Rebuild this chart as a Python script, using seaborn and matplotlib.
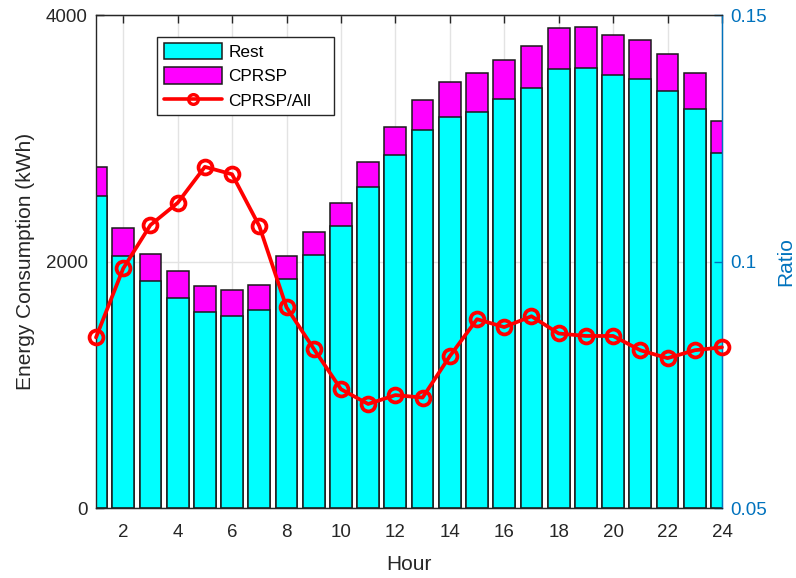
import matplotlib
matplotlib.use("Agg")
import matplotlib.pyplot as plt
import seaborn as sns
import numpy as np
import pandas as pd
from matplotlib.patches import Patch
from matplotlib.lines import Line2D

# Hourly energy consumption (kWh)
hours = list(range(1, 25))
rest = [2532, 2045, 1842, 1704, 1588, 1558, 1607, 1855, 2053, 2288, 2607, 2864,
        3067, 3175, 3213, 3321, 3411, 3559, 3568, 3511, 3481, 3384, 3240, 2878]
total = [2767, 2272, 2063, 1921, 1804, 1769, 1807, 2045, 2239, 2477, 2810, 3089,
         3310, 3459, 3527, 3635, 3749, 3895, 3903, 3841, 3795, 3681, 3532, 3140]
# Share of CPRSP in the total consumption
ratio = [0.0846, 0.0986, 0.1074, 0.1119, 0.1192, 0.1177, 0.1072, 0.0907, 0.0823,
         0.0741, 0.0711, 0.0729, 0.0724, 0.0808, 0.0883, 0.0867, 0.0889, 0.0854,
         0.0849, 0.0849, 0.0820, 0.0804, 0.0820, 0.0826]

x_ticks = list(range(2, 25, 2))
left_ticks = [0, 2000, 4000]
right_ticks = [0.05, 0.1, 0.15]
right_tick_labels = ["0.05", "0.1", "0.15"]

df = pd.DataFrame({"Hour": hours, "Rest": rest, "Total": total, "Ratio": ratio})

sns.set_style("white")
plt.rcParams["font.family"] = ["Liberation Sans", "DejaVu Sans"]

dark = "#262626"
blue = "#0072BD"
cyan = "#00FFFF"
magenta = "#FF00FF"
edge = "#1a1a1a"

fig = plt.figure(figsize=(7.96, 5.78), dpi=100)
ax = fig.add_axes([0.1206, 0.1211, 0.9070 - 0.1206, 0.974 - 0.1211])

# stacked bars: full height in magenta, the "Rest" part drawn over it in cyan
sns.barplot(data=df, x="Hour", y="Total", native_scale=True, color=magenta,
            saturation=1, width=0.8, edgecolor=edge, linewidth=1.1,
            errorbar=None, ax=ax, zorder=2)
sns.barplot(data=df, x="Hour", y="Rest", native_scale=True, color=cyan,
            saturation=1, width=0.8, edgecolor=edge, linewidth=1.1,
            errorbar=None, ax=ax, zorder=2)

ax.set_xlim(1, 24)
ax.set_ylim(0, 4000)
ax.set_xticks(x_ticks)
ax.set_xticklabels([str(t) for t in x_ticks])
ax.set_yticks(left_ticks)
ax.set_yticklabels([str(t) for t in left_ticks])
ax.grid(True, color="#e3e3e3", linewidth=1.0, zorder=0)
ax.set_axisbelow(True)
ax.tick_params(axis="both", direction="in", length=6, width=1, colors=dark,
               labelsize=13.5, top=True)
ax.tick_params(axis="x", pad=11.5)
ax.tick_params(axis="y", pad=6)
ax.set_xlabel("Hour", fontsize=15, color=dark, labelpad=10)
ax.set_ylabel("Energy Consumption (kWh)", fontsize=15, color=dark, labelpad=8)
for side in ["left", "bottom", "top"]:
    ax.spines[side].set_color(dark)
    ax.spines[side].set_linewidth(1)

ax2 = ax.twinx()
sns.lineplot(data=df, x="Hour", y="Ratio", ax=ax2, color="red", linewidth=2.7,
             marker="o", markersize=10, markerfacecolor="none",
             markeredgecolor="red", markeredgewidth=2.7, clip_on=False, zorder=5)
ax2.set_ylim(0.05, 0.15)
ax2.set_xlim(1, 24)
ax2.set_yticks(right_ticks)
ax2.set_yticklabels(right_tick_labels)
ax2.tick_params(axis="y", direction="in", length=6, width=1, colors=blue,
                labelsize=13.5, pad=6)
ax2.set_ylabel("Ratio", fontsize=15, color=blue, rotation=90,
               ha="center", va="center")
ax2.yaxis.set_label_coords(1.102, 0.5)
ax2.spines["right"].set_color(blue)
ax2.spines["right"].set_linewidth(1)
ax2.spines["left"].set_visible(False)
ax2.spines["top"].set_color(dark)
ax2.spines["bottom"].set_color(dark)

handles = [
    Patch(facecolor=cyan, edgecolor=edge, linewidth=1.1, label="Rest"),
    Patch(facecolor=magenta, edgecolor=edge, linewidth=1.1, label="CPRSP"),
    Line2D([0], [0], color="red", linewidth=2.6, marker="o", markersize=7,
           markerfacecolor="none", markeredgecolor="red", markeredgewidth=2.4,
           label="CPRSP/All"),
]
leg = ax2.legend(handles=handles, loc="upper left",
                 bbox_to_anchor=(0.098, 0.956, 0.283, 0.0), mode="expand",
                 borderaxespad=0, fontsize=12.4, frameon=True, fancybox=False,
                 framealpha=1, edgecolor=dark, handlelength=3.4, handleheight=1.07,
                 handletextpad=0.35, labelspacing=0.42, borderpad=0.38)
leg.get_frame().set_linewidth(1)
for t in leg.get_texts():
    t.set_color("black")

fig.savefig("out.png", dpi=100)
